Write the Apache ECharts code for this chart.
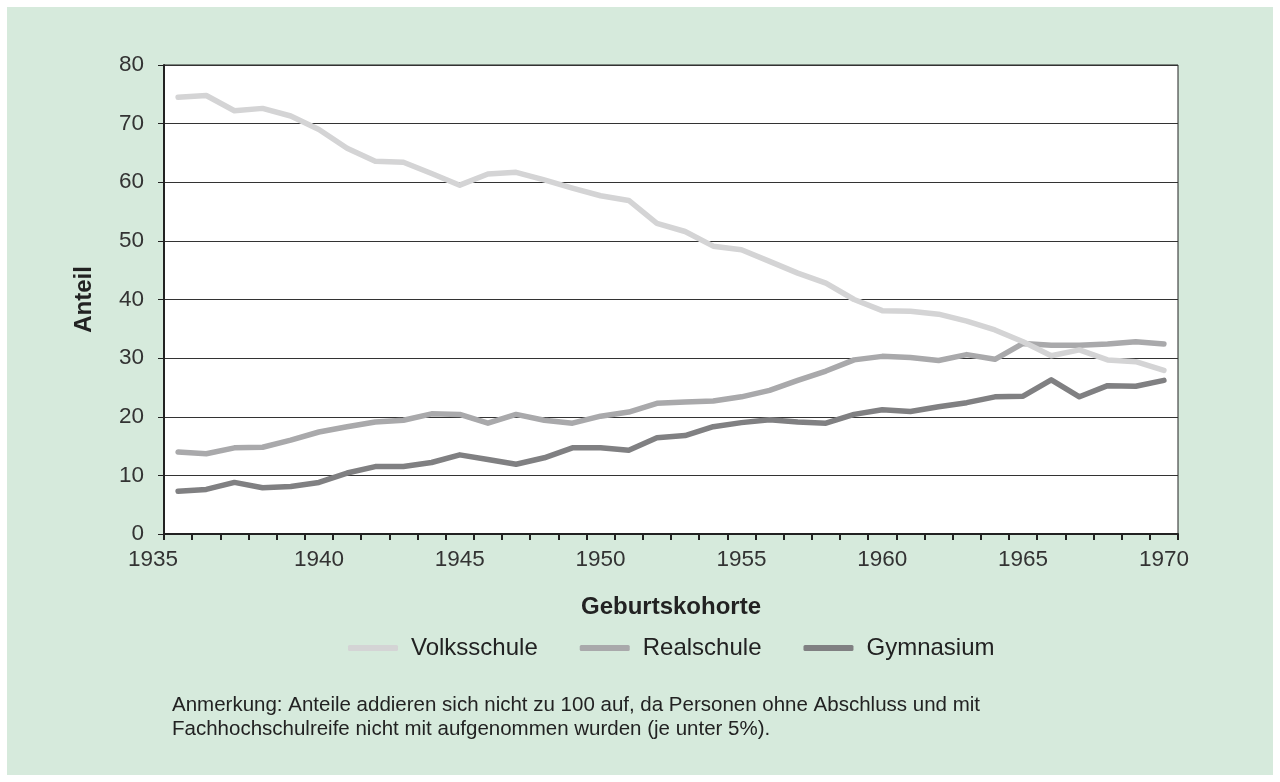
<!DOCTYPE html>
<html>
<head>
    <meta charset="utf-8"/>
    <title>Schulabschluss nach Geburtskohorte</title>
    <script src="https://cdn.jsdelivr.net/npm/echarts@6/dist/echarts.min.js"></script>
    <style>
        html, body { margin: 0; padding: 0; background: #ffffff; }
        #chart { width: 1280px; height: 782px; }
    </style>
</head>
<body>
<div id="chart"></div>
<script type="text/javascript">
    // Daten
    var years = [];
    for (var y = 1935; y <= 1970; y++) { years.push(String(y)); }

    var volksschule = [74.5, 74.8, 72.2, 72.6, 71.3, 69.0, 65.8, 63.6, 63.4, 61.5,
        59.5, 61.4, 61.7, 60.4, 59.0, 57.7, 56.9, 53.0, 51.6, 49.1,
        48.5, 46.5, 44.5, 42.8, 40.0, 38.1, 38.0, 37.5, 36.3, 34.8,
        32.8, 30.4, 31.4, 29.7, 29.4, 27.9];
    var realschule = [14.0, 13.7, 14.7, 14.8, 16.0, 17.4, 18.3, 19.1, 19.4, 20.5,
        20.4, 18.9, 20.4, 19.4, 18.9, 20.1, 20.8, 22.3, 22.5, 22.7,
        23.4, 24.5, 26.2, 27.8, 29.7, 30.3, 30.1, 29.6, 30.6, 29.8,
        32.5, 32.2, 32.2, 32.4, 32.8, 32.4];
    var gymnasium = [7.3, 7.6, 8.8, 7.9, 8.1, 8.8, 10.4, 11.5, 11.5, 12.2,
        13.5, 12.7, 11.9, 13.0, 14.7, 14.7, 14.3, 16.4, 16.8, 18.3,
        19.0, 19.5, 19.1, 18.9, 20.4, 21.2, 20.9, 21.7, 22.4, 23.4,
        23.5, 26.3, 23.4, 25.3, 25.2, 26.2];

    var seriesNames = ['Volksschule', 'Realschule', 'Gymnasium'];
    var seriesColors = ['#d4d4d5', '#a9a9ab', '#808082'];
    var seriesData = [volksschule, realschule, gymnasium];

    var chart = echarts.init(document.getElementById('chart'));

    var textFont = '"Liberation Sans", Arial, sans-serif';

    var option = {
        backgroundColor: '#ffffff',
        animation: false,
        textStyle: { fontFamily: textFont },
        graphic: [
            {
                type: 'rect',
                z: -10,
                shape: { x: 7, y: 7, width: 1266, height: 768 },
                style: { fill: '#d6eadc' }
            },
            {
                type: 'text',
                left: 172,
                top: 693,
                style: {
                    text: 'Anmerkung: Anteile addieren sich nicht zu 100 auf, da Personen ohne Abschluss und mit\nFachhochschulreife nicht mit aufgenommen wurden (je unter 5%).',
                    font: '20.5px ' + textFont,
                    fill: '#222222',
                    lineHeight: 24
                }
            }
        ],
        grid: {
            left: 164,
            right: 102,
            top: 65,
            bottom: 248,
            show: true,
            backgroundColor: '#ffffff',
            borderColor: '#222222',
            borderWidth: 1
        },
        legend: {
            bottom: 117,
            left: 343,
            itemWidth: 50,
            itemHeight: 6,
            itemGap: 42,
            icon: 'roundRect',
            textStyle: { fontSize: 24, color: '#222222', fontFamily: textFont, padding: [0, 0, 0, 8] },
            data: seriesNames
        },
        xAxis: {
            type: 'category',
            data: years,
            boundaryGap: true,
            name: 'Geburtskohorte',
            nameLocation: 'middle',
            nameGap: 61,
            nameTextStyle: { fontSize: 24, fontWeight: 'bold', color: '#222222' },
            axisLine: { lineStyle: { color: '#222222', width: 2 } },
            axisTick: { show: true, length: 6, interval: 0, lineStyle: { color: '#222222', width: 2 } },
            axisLabel: {
                interval: 4,
                fontSize: 22.5,
                color: '#333333',
                margin: 14,
                alignMinLabel: 'right'
            }
        },
        yAxis: {
            type: 'value',
            min: 0,
            max: 80,
            interval: 10,
            name: 'Anteil',
            nameLocation: 'middle',
            nameGap: 68,
            nameRotate: 90,
            nameTextStyle: { fontSize: 24, fontWeight: 'bold', color: '#222222' },
            axisLine: { show: true, lineStyle: { color: '#222222', width: 2 } },
            axisTick: { show: true, length: 6, lineStyle: { color: '#222222', width: 1 } },
            axisLabel: { fontSize: 22.5, color: '#333333', margin: 20 },
            splitLine: { lineStyle: { color: '#333333', width: 1 } }
        },
        series: seriesNames.map(function (name, i) {
            return {
                name: name,
                type: 'line',
                data: seriesData[i],
                symbol: 'none',
                color: seriesColors[i],
                lineStyle: { width: 5.5, color: seriesColors[i], cap: 'round', join: 'round' },
                z: 3 - i
            };
        })
    };

    chart.setOption(option);
</script>
</body>
</html>
